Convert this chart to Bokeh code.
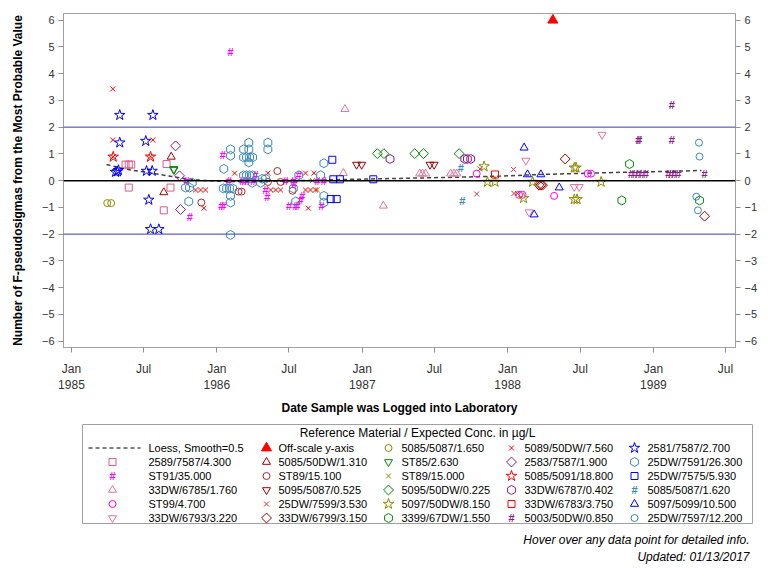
import numpy as np
from datetime import datetime
from bokeh.plotting import figure
from bokeh.models import (Range1d, LinearAxis, Span, FixedTicker, CustomJSTickFormatter, ColumnDataSource)
from bokeh.layouts import column, row
from bokeh.core.properties import value
from bokeh.embed import file_html
from bokeh.resources import INLINE

# ---------------- data (decimal year of log date, F-pseudosigmas) ----------------
sq_2589_t = [1985.372, 1985.394, 1985.411, 1985.394, 1985.654, 1985.681, 1985.635]
sq_2589_v = [0.60, 0.60, 0.60, -0.26, 0.62, -0.26, -1.11]

st91_t = [1986.094, 1985.791, 1985.814, 1986.041, 1986.044, 1986.030, 1986.083, 1986.175, 1986.191,
          1986.209, 1986.251, 1986.266, 1986.335, 1986.347, 1986.473, 1986.526, 1986.535, 1986.496,
          1986.542, 1986.553, 1986.564, 1986.588, 1986.576, 1986.691, 1986.736, 1986.720]
st91_v = [4.81, 0.0, -1.37, 0.97, -0.96, -0.96, 0.0, 0.0, 0.0,
          0.0, 0.0, 0.22, -0.35, -0.60, 0.0, 0.0, -0.11, -0.96,
          -0.96, -0.96, 0.20, -0.58, -0.72, 0.0, 0.0, -0.96]

tri_6785_t = [1986.881, 1986.870, 1987.145, 1987.395, 1987.414, 1987.436, 1987.608, 1987.631, 1987.650]
tri_6785_v = [2.67, 0.28, -0.94, 0.26, 0.26, 0.26, 0.26, 0.26, 0.26]

st99_t = [1987.787, 1988.078, 1988.102, 1988.319, 1988.549, 1988.572]
st99_v = [0.26, -0.53, -0.53, -0.57, 0.26, 0.26]

inv_6793_t = [1988.125, 1988.147, 1988.457, 1988.491, 1988.648]
inv_6793_v = [0.75, -1.18, -0.23, -0.23, 1.72]

offscale_t = [1988.310]
offscale_v = [6.0]

tri_5085_t = [1985.686, 1985.635]
tri_5085_v = [0.89, -0.44]

st89a_t = [1986.416, 1986.351, 1986.438, 1985.893, 1986.149, 1986.170, 1986.521]
st89a_v = [0.36, -0.05, -0.05, -0.82, -0.41, -0.41, -0.38]

inv_5095_t = [1986.961, 1986.996, 1987.466, 1987.494]
inv_5095_v = [0.60, 0.60, 0.60, 0.60]

x_7599_t = [1987.810, 1987.787, 1988.040, 1988.044, 1988.067]
x_7599_v = [0.44, -0.50, 0.42, -0.48, -0.48]

dia_6799_t = [1988.216, 1988.228, 1988.239, 1988.395, 1989.352]
dia_6799_v = [-0.17, -0.17, -0.17, 0.81, -1.33]

circ_1650_t = [1985.246, 1985.273]
circ_1650_v = [-0.84, -0.84]

inv_st85_t = [1985.704, 1985.704]
inv_st85_v = [0.44, 0.40]

x_st89_t = [1986.657, 1986.691]
x_st89_v = [0.0, -0.35]

dia_0225_t = [1987.104, 1987.149, 1987.361, 1987.421, 1987.666]
dia_0225_v = [1.01, 1.01, 1.01, 1.01, 1.01]

star_8150_t = [1987.838, 1987.861, 1987.913, 1988.109, 1988.171, 1988.457, 1988.469, 1988.457, 1988.476, 1988.641]
star_8150_v = [0.53, -0.05, -0.05, -0.66, -0.05, 0.48, 0.48, -0.70, -0.70, -0.05]

hd_1550_t = [1988.836, 1988.783, 1989.317]
hd_1550_v = [0.62, -0.74, -0.74]

x_7560_t = [1985.284, 1985.284, 1985.560, 1985.287, 1985.544, 1986.122, 1986.351, 1986.610, 1986.668,
            1986.629, 1985.911, 1985.853, 1985.888, 1985.922, 1986.370, 1986.404, 1986.438, 1986.610,
            1986.644, 1986.679]
x_7560_v = [3.43, 1.52, 1.52, 0.89, 0.89, 0.28, 0.28, 0.28, 0.28,
            -1.03, -1.03, -0.35, -0.35, -0.35, -0.35, -0.35, -0.35, -0.35,
            -0.35, -0.35]

dia_1900_t = [1985.716, 1985.743, 1985.750]
dia_1900_v = [1.30, 0.18, -1.08]

star_18800_t = [1985.287, 1985.544]
star_18800_v = [0.89, 0.89]

hd_0402_t = [1987.191, 1987.705, 1987.723, 1987.746]
hd_0402_v = [0.81, 0.81, 0.81, 0.81]

sq_3750_t = [1987.913]
sq_3750_v = [0.23]

hash_0850_t = [1989.127, 1988.897, 1988.903, 1989.127, 1988.847, 1988.874, 1988.897, 1988.922, 1988.950,
               1989.102, 1989.123, 1989.144, 1989.171, 1989.352]
hash_0850_v = [2.82, 1.52, 1.52, 1.52, 0.23, 0.23, 0.23, 0.23, 0.23,
               0.23, 0.23, 0.23, 0.23, 0.23]

star_2700_t = [1985.332, 1985.560, 1985.332, 1985.511, 1985.303, 1985.316, 1985.323, 1985.516, 1985.555,
               1985.532, 1985.544, 1985.601]
star_2700_v = [2.45, 2.45, 1.42, 1.48, 0.32, 0.34, 0.39, 0.36, 0.36,
               -0.72, -1.82, -1.82]

hd_26300_t = [1985.785, 1985.812, 1985.831, 1985.807, 1986.048, 1986.094, 1986.094,
              1986.184, 1986.220, 1986.220, 1986.184, 1986.204, 1986.225, 1986.246, 1986.220,
              1986.351, 1986.351, 1986.184, 1986.204, 1986.225, 1986.246,
              1986.244, 1986.301, 1986.312, 1986.335, 1986.044, 1986.067, 1986.087, 1986.108,
              1986.094, 1986.094, 1986.094, 1986.564, 1986.542, 1986.736, 1986.714, 1986.736,
              1986.736, 1986.526]
hd_26300_v = [-0.26, -0.26, -0.08, -0.78, 0.44, 1.17, 0.93,
              1.17, 1.42, 1.17, 0.87, 0.87, 0.87, 0.87, 0.68,
              1.42, 1.17, 0.20, 0.20, 0.20, 0.20,
              -0.08, -0.08, 0.07, 0.07, -0.29, -0.29, -0.29, -0.29,
              -0.57, -0.82, -2.03, 0.20, -0.78, 0.65, 0.20, -0.57,
              -0.82, -0.29]

sq_5930_t = [1986.794, 1986.801, 1986.846, 1987.076, 1986.783, 1986.824]
sq_5930_v = [0.78, 0.05, 0.05, 0.05, -0.69, -0.69]

hash_1620_t = [1987.677, 1987.689]
hash_1620_v = [0.48, -0.78]

tri_10500_t = [1988.113, 1988.136, 1988.228, 1988.182, 1988.354]
tri_10500_v = [1.23, 0.23, 0.23, -1.27, -0.26]

circ_12200_t = [1989.313, 1989.317, 1989.295, 1989.306]
circ_12200_v = [1.42, 0.90, -0.60, -1.11]

loess_t = [1985.241, 1985.406, 1985.578, 1985.750, 1985.888, 1986.094, 1986.301, 1986.576, 1986.851,
           1987.127, 1987.402, 1987.677, 1987.952, 1988.228, 1988.503, 1988.778, 1989.054, 1989.330]
loess_v = [0.60, 0.40, 0.26, 0.10, 0.01, -0.03, -0.03, 0.0, 0.04,
           0.07, 0.10, 0.13, 0.17, 0.23, 0.27, 0.31, 0.34, 0.38]

y_ticks = [-6, -5, -4, -3, -2, -1, 0, 1, 2, 3, 4, 5, 6]
x_tick_dates = ["1985-01-01", "1985-07-01", "1986-01-01", "1986-07-01", "1987-01-01", "1987-07-01",
                "1988-01-01", "1988-07-01", "1989-01-01", "1989-07-01"]

# ---------------- styles ----------------
PINK1 = "#DD5A85"
PINK2 = "#E6759B"
MAG = "#FF00FF"
RED = "#FF0000"
DRED = "#A00000"
BRED = "#C83A3A"
OLIVE = "#8C8C00"
GREEN = "#008A00"
PURP = "#8A1A8A"
BLUE = "#0000FF"
STEEL = "#3A88B8"

# (label, t, v, kind, color)
series = [
    ("2589/7587/4.300", sq_2589_t, sq_2589_v, "square", PINK1),
    ("ST91/35.000", st91_t, st91_v, "hash", MAG),
    ("33DW/6785/1.760", tri_6785_t, tri_6785_v, "triangle", PINK2),
    ("ST99/4.700", st99_t, st99_v, "circle", MAG),
    ("33DW/6793/3.220", inv_6793_t, inv_6793_v, "inverted_triangle", PINK2),
    ("Off-scale y-axis", offscale_t, offscale_v, "filled_triangle", RED),
    ("5085/50DW/1.310", tri_5085_t, tri_5085_v, "triangle", DRED),
    ("ST89/15.100", st89a_t, st89a_v, "circle", "#B02828"),
    ("5095/5087/0.525", inv_5095_t, inv_5095_v, "inverted_triangle", DRED),
    ("25DW/7599/3.530", x_7599_t, x_7599_v, "x", BRED),
    ("33DW/6799/3.150", dia_6799_t, dia_6799_v, "diamond", DRED),
    ("5085/5087/1.650", circ_1650_t, circ_1650_v, "circle", OLIVE),
    ("ST85/2.630", inv_st85_t, inv_st85_v, "inverted_triangle", GREEN),
    ("ST89/15.000", x_st89_t, x_st89_v, "x", OLIVE),
    ("5095/50DW/0.225", dia_0225_t, dia_0225_v, "diamond", GREEN),
    ("5097/50DW/8.150", star_8150_t, star_8150_v, "star", OLIVE),
    ("3399/67DW/1.550", hd_1550_t, hd_1550_v, "homedown", GREEN),
    ("5089/50DW/7.560", x_7560_t, x_7560_v, "x", RED),
    ("2583/7587/1.900", dia_1900_t, dia_1900_v, "diamond", PURP),
    ("5085/5091/18.800", star_18800_t, star_18800_v, "star", RED),
    ("33DW/6787/0.402", hd_0402_t, hd_0402_v, "homedown", PURP),
    ("33DW/6783/3.750", sq_3750_t, sq_3750_v, "square", RED),
    ("5003/50DW/0.850", hash_0850_t, hash_0850_v, "hash", PURP),
    ("2581/7587/2.700", star_2700_t, star_2700_v, "star", BLUE),
    ("25DW/7591/26.300", hd_26300_t, hd_26300_v, "homedown", STEEL),
    ("25DW/7575/5.930", sq_5930_t, sq_5930_v, "square", BLUE),
    ("5085/5087/1.620", hash_1620_t, hash_1620_v, "hash", STEEL),
    ("5097/5099/10.500", tri_10500_t, tri_10500_v, "triangle", BLUE),
    ("25DW/7597/12.200", circ_12200_t, circ_12200_v, "circle", STEEL),
]

FONT = "Liberation Sans"


def to_dt(y):
    yr = int(y)
    a = datetime(yr, 1, 1)
    b = datetime(yr + 1, 1, 1)
    return a + (b - a) * (y - yr)


def draw(fig, kind, color, xs, ys):
    src = ColumnDataSource(dict(x=xs, y=ys))
    if kind == "hash":
        fig.text(x="x", y="y", source=src, text=value("#"), text_color=color,
                 text_font=value(FONT), text_font_size="11px", text_font_style="bold",
                 text_align="center", text_baseline="middle")
        return
    sizes = {"square": 7, "circle": 7, "triangle": 8, "inverted_triangle": 8, "diamond": 7,
             "star": 11, "x": 7, "homedown": 9, "filled_triangle": 10}
    marker = kind
    fill = None
    angle = 0.0
    if kind == "filled_triangle":
        marker = "triangle"
        fill = color
    if kind == "diamond":
        marker = "square"
        angle = np.pi / 4
    if kind == "homedown":
        marker = "hex"
        angle = np.pi / 2
    fig.scatter(x="x", y="y", source=src, marker=marker, size=sizes[kind], angle=angle,
                line_color=color, fill_color=fill, line_width=1)


W = 766
# ---------------- main plot: frame at page x 63..735, y 13..354 ----------------
p = figure(width=W, height=418, x_axis_type="datetime", output_backend="svg", toolbar_location=None,
           x_range=Range1d(datetime(1984, 12, 12), datetime(1989, 7, 26)),
           y_range=Range1d(-6.24, 6.25),
           min_border_left=63, min_border_right=W - 735, min_border_top=13, min_border_bottom=64)
p.grid.visible = False
p.outline_line_color = "#A0A0A0"
p.background_fill_color = "white"
p.border_fill_color = "white"

tick_ms = [(datetime.fromisoformat(d) - datetime(1970, 1, 1)).total_seconds() * 1000 for d in x_tick_dates]
xax = p.below[0]
lax = p.left[0]
xax.ticker = FixedTicker(ticks=tick_ms)
xax.formatter = CustomJSTickFormatter(code="""
const d = new Date(tick);
const m = d.getUTCMonth();
if (m == 0) { return "Jan\\n" + d.getUTCFullYear(); }
return "Jul";
""")
lax.ticker = FixedTicker(ticks=y_ticks)
rax = LinearAxis(ticker=FixedTicker(ticks=y_ticks))
p.add_layout(rax, "right")

for ax in [xax, lax, rax]:
    ax.axis_line_color = "#A0A0A0"
    ax.major_tick_line_color = "#909090"
    ax.minor_tick_line_color = None
    ax.major_tick_out = 5
    ax.major_tick_in = 0
    ax.major_label_text_font = FONT
    ax.major_label_text_font_size = "11px"
    ax.major_label_text_color = "#333333"
    ax.major_label_standoff = 4

xax.major_label_standoff = 9
xax.major_label_text_font_size = "12px"
xax.axis_label = "Date Sample was Logged into Laboratory"
lax.axis_label = "Number of F-pseudosigmas from the Most Probable Value"
for ax in [xax, lax]:
    ax.axis_label_text_font = FONT
    ax.axis_label_text_font_size = "12px"
    ax.axis_label_text_font_style = "bold"
    ax.axis_label_text_color = "black"
xax.axis_label_standoff = 6
lax.axis_label_standoff = 14

p.add_layout(Span(location=2, dimension="width", line_color="#3C3CB4", line_width=1))
p.add_layout(Span(location=-2, dimension="width", line_color="#3C3CB4", line_width=1))
p.add_layout(Span(location=0, dimension="width", line_color="black", line_width=1.5))

p.line([to_dt(t) for t in loess_t], loess_v, line_color="#444444", line_width=1.5, line_dash="4 3")

for label, ts, vs, kind, color in series:
    draw(p, kind, color, [to_dt(t) for t in ts], vs)

# ---------------- legend + footnote (page-pixel coordinates) ----------------
q = figure(width=W, height=156, output_backend="svg", toolbar_location=None,
           x_range=Range1d(0, W), y_range=Range1d(574, 418),
           min_border=0, x_axis_location=None, y_axis_location=None)
q.grid.visible = False
q.outline_line_color = None
q.background_fill_color = "white"
q.border_fill_color = "white"

q.quad(left=[82], right=[752], top=[424], bottom=[523], fill_color=None, line_color="#A0A0A0", line_width=1)
q.text(x=[417], y=[432], text=["Reference Material / Expected Conc. in \u00b5g/L"], text_font=value(FONT),
       text_font_size="12px", text_align="center", text_baseline="middle", text_color="black")

col_sw = [112, 266, 388, 511, 634]
col_tx = [148, 278, 401, 524, 647]
row_y0 = 447.5
row_dy = 14.0

entries = [("Loess, Smooth=0.5", None, None)] + [(s[0], s[3], s[4]) for s in series]
labels_x, labels_y, labels_t = [], [], []
for i, (lab, kind, color) in enumerate(entries):
    c, r = divmod(i, 6)
    yy = row_y0 + r * row_dy
    if kind is None:
        q.line([88, 140], [yy, yy], line_color="black", line_width=1, line_dash="4 3")
    else:
        draw(q, kind, color, [col_sw[c]], [yy])
    labels_x.append(col_tx[c])
    labels_y.append(yy)
    labels_t.append(lab)
q.text(x=labels_x, y=labels_y, text=labels_t, text_font=value(FONT), text_font_size="11px",
       text_align="left", text_baseline="middle", text_color="black")

q.text(x=[749, 749], y=[539, 556],
       text=["Hover over any data point for detailed info.", "Updated: 01/13/2017"],
       text_font=value(FONT), text_font_size="12px", text_font_style="italic",
       text_align="right", text_baseline="middle", text_color="black")

layout = column(p, row(q))
open("out.html", "w").write(file_html(layout, INLINE))
